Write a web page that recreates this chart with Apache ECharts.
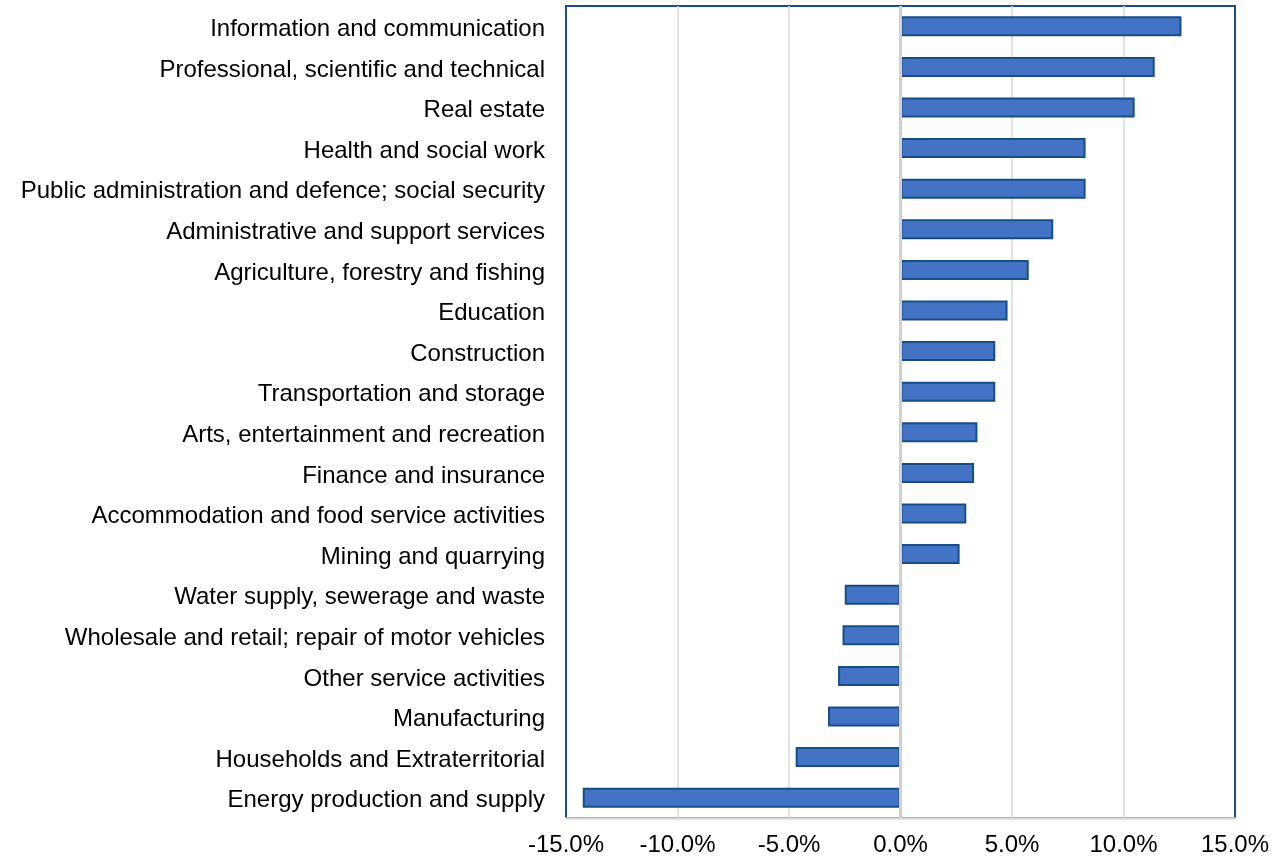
<!DOCTYPE html>
<html>
<head>
<meta charset="utf-8">
<script src="https://cdn.jsdelivr.net/npm/echarts@6/dist/echarts.min.js"></script>
<style>
    html, body { margin: 0; padding: 0; background: #fff; }
    #chart { width: 1282px; height: 857px; }
</style>
</head>
<body>
<div id="chart"></div>
<script>
// sectors, top to bottom
var sectors = [
    "Information and communication",
    "Professional, scientific and technical",
    "Real estate",
    "Health and social work",
    "Public administration and defence; social security",
    "Administrative and support services",
    "Agriculture, forestry and fishing",
    "Education",
    "Construction",
    "Transportation and storage",
    "Arts, entertainment and recreation",
    "Finance and insurance",
    "Accommodation and food service activities",
    "Mining and quarrying",
    "Water supply, sewerage and waste",
    "Wholesale and retail; repair of motor vehicles",
    "Other service activities",
    "Manufacturing",
    "Households and Extraterritorial",
    "Energy production and supply"
];
// change, %
var growth = [12.6, 11.4, 10.5, 8.3, 8.3, 6.85, 5.75, 4.8, 4.25, 4.25,
    3.45, 3.3, 2.95, 2.65, -2.5, -2.6, -2.8, -3.25, -4.7, -14.25];

var axisMin = -15;
var axisMax = 15;
var axisStep = 5;

var chart = echarts.init(document.getElementById("chart"));
chart.setOption({
    animation: false,
    grid: {
        left: 566,
        right: 47,
        top: 6,
        bottom: 38,
        show: true,
        borderColor: "#164f85",
        borderWidth: 2,
        backgroundColor: "transparent"
    },
    xAxis: {
        type: "value",
        min: axisMin,
        max: axisMax,
        interval: axisStep,
        axisLine: { show: true, onZero: false, lineStyle: { color: "#d9d9d9", width: 2.5 } },
        axisTick: { show: false },
        axisLabel: {
            color: "#000",
            fontSize: 24,
            fontFamily: "Liberation Sans, Arial",
            margin: 15,
            formatter: function (v) { return v.toFixed(1) + "%"; }
        },
        splitLine: {
            show: true,
            showMinLine: false,
            showMaxLine: false,
            lineStyle: { color: "#d9d9d9", width: 1.5 }
        }
    },
    yAxis: {
        type: "category",
        inverse: true,
        data: sectors,
        axisLine: { show: false, onZero: false },
        axisTick: { show: false },
        axisLabel: {
            color: "#000",
            fontSize: 24,
            fontFamily: "Liberation Sans, Arial",
            margin: 21,
            // nudge labels a few px down to sit level with the bars
            verticalAlign: "top",
            lineHeight: 6
        }
    },
    series: [
        {
            type: "bar",
            data: growth,
            barWidth: 20,
            itemStyle: {
                color: "#4472c4",
                borderColor: "#164f85",
                borderWidth: 2
            },
            markLine: {
                silent: true,
                symbol: "none",
                label: { show: false },
                lineStyle: { color: "#d0d0d0", type: "solid", width: 3 },
                data: [{ xAxis: 0 }]
            }
        }
    ]
});
</script>
</body>
</html>
